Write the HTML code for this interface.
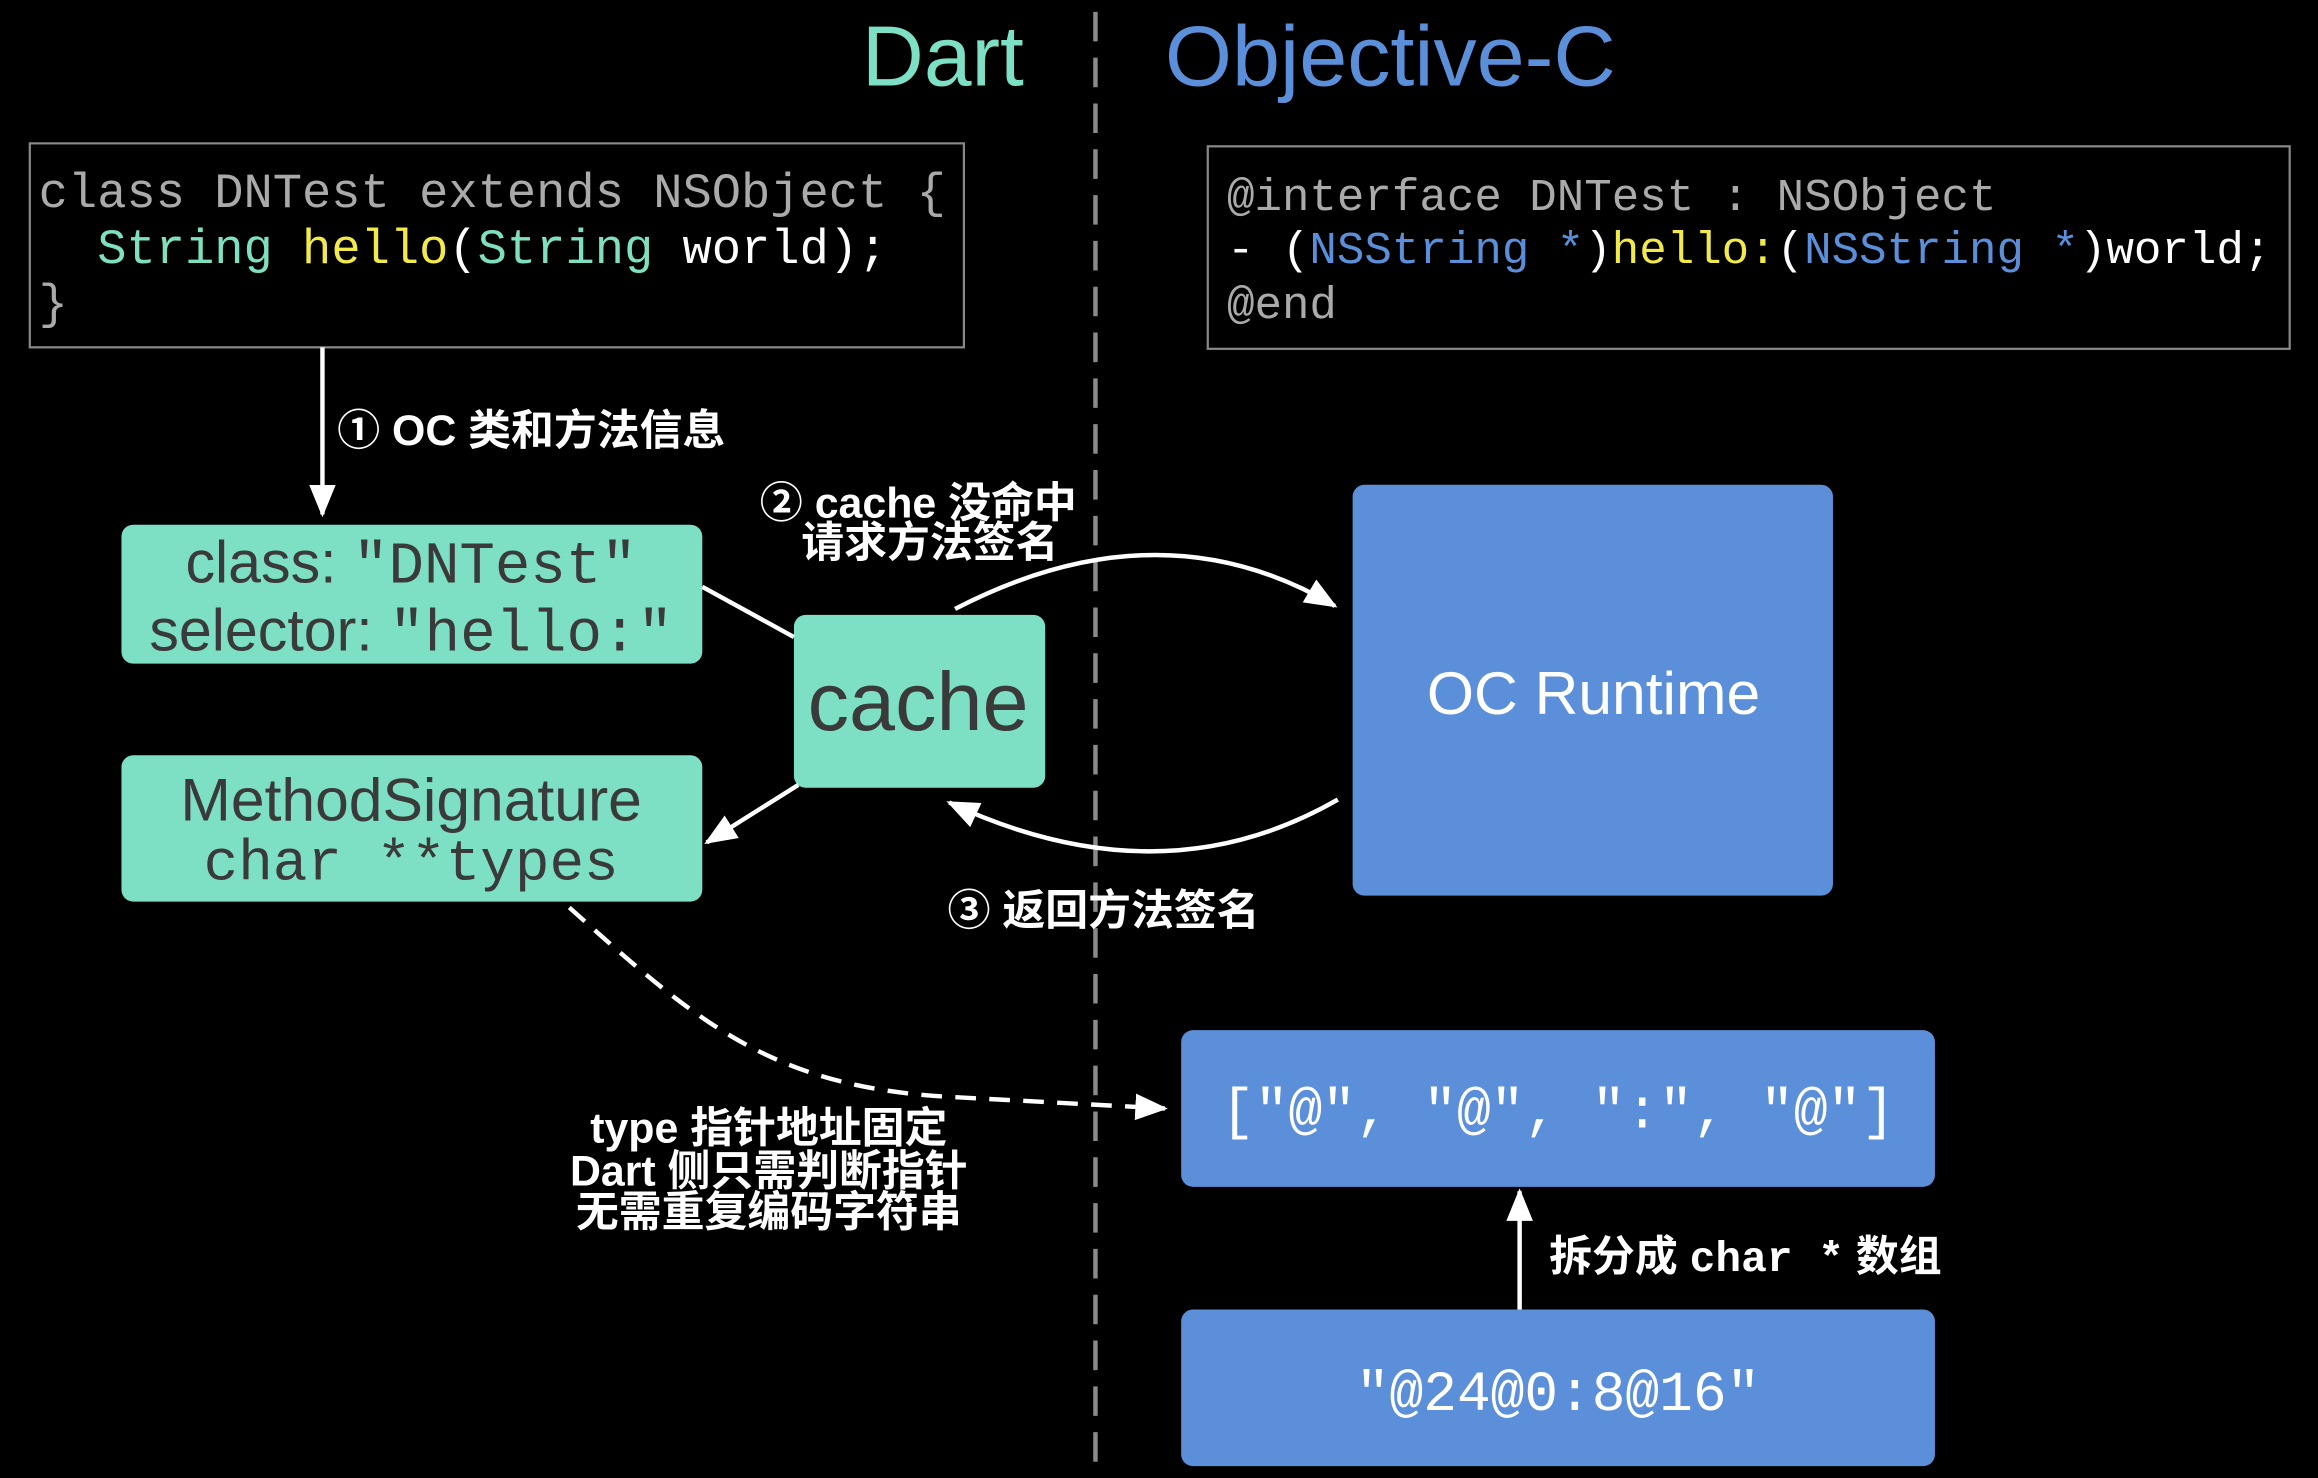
<!DOCTYPE html>
<html><head><meta charset="utf-8"><style>
html,body{margin:0;padding:0;background:#000;}
svg{display:block;}
.mono{font-family:"Liberation Mono","DejaVu Sans Mono",monospace;}
.sans{font-family:"Liberation Sans","Noto Sans CJK SC",sans-serif;}
.lbl{font-family:"Liberation Sans","Noto Sans CJK SC",sans-serif;font-weight:bold;fill:#fff;font-size:29px;}
</style></head><body>
<svg width="2318" height="1478" viewBox="0 0 1568 1000" xmlns="http://www.w3.org/2000/svg">
<defs>
<marker id="ah2" markerWidth="22" markerHeight="22" refX="20" refY="11" orient="auto" markerUnits="userSpaceOnUse" viewBox="0 0 22 22">
<path d="M0,2 L22,11 L0,20 z" fill="#fff"/></marker>
</defs>
<rect width="1568" height="1000" fill="#000"/>
<text x="583" y="58" class="sans" font-size="58" fill="#7ddfc3">Dart</text>
<text x="788" y="58" class="sans" font-size="58" fill="#5b8fd9" textLength="305" lengthAdjust="spacingAndGlyphs">Objective-C</text>
<line x1="741" y1="8" x2="741" y2="1000" stroke="#8a8a8a" stroke-width="3" stroke-dasharray="20,11"/>

<rect x="20" y="97" width="632" height="138" fill="none" stroke="#888" stroke-width="1.5"/>
<text class="mono" font-size="33" fill="#aaa" xml:space="preserve"><tspan x="26" y="140">class DNTest extends NSObject {</tspan><tspan x="26" y="178">  <tspan fill="#7ee0c0">String</tspan> <tspan fill="#f2ea4a">hello</tspan><tspan fill="#fff">(</tspan><tspan fill="#7ee0c0">String</tspan><tspan fill="#fff"> world);</tspan></tspan><tspan x="26" y="215">}</tspan></text>

<rect x="817" y="99" width="732" height="137" fill="none" stroke="#888" stroke-width="1.5"/>
<text class="mono" font-size="31" fill="#aaa" xml:space="preserve"><tspan x="830" y="142">@interface DNTest : NSObject</tspan><tspan x="830" y="178"><tspan fill="#fff">- (</tspan><tspan fill="#5b8fd9">NSString *</tspan><tspan fill="#fff">)</tspan><tspan fill="#f2ea4a">hello:</tspan><tspan fill="#fff">(</tspan><tspan fill="#5b8fd9">NSString *</tspan><tspan fill="#fff">)world;</tspan></tspan><tspan x="830" y="215">@end</tspan></text>

<line x1="218" y1="235" x2="218" y2="348" stroke="#fff" stroke-width="3" marker-end="url(#ah2)"/>
<text x="228" y="301" class="lbl">① OC 类和方法信息</text>

<rect x="82" y="355" width="393" height="94" rx="8" fill="#7ddfc3"/>
<text x="278" y="394" text-anchor="middle" font-size="40" fill="#3a3a3a"><tspan class="sans">class: </tspan><tspan class="mono">"DNTest"</tspan></text>
<text x="278" y="440" text-anchor="middle" font-size="40" fill="#3a3a3a"><tspan class="sans">selector: </tspan><tspan class="mono">"hello:"</tspan></text>

<rect x="82" y="511" width="393" height="99" rx="8" fill="#7ddfc3"/>
<text x="278" y="555" text-anchor="middle" class="sans" font-size="41" fill="#3a3a3a">MethodSignature</text>
<text x="278" y="595" text-anchor="middle" class="mono" font-size="39" fill="#3a3a3a">char **types</text>

<rect x="537" y="416" width="170" height="117" rx="8" fill="#7ddfc3"/>
<text x="621" y="494" text-anchor="middle" class="sans" font-size="56" fill="#3a3a3a">cache</text>

<line x1="475" y1="397" x2="537" y2="431" stroke="#fff" stroke-width="3"/>
<line x1="540" y1="531" x2="478" y2="570" stroke="#fff" stroke-width="3" marker-end="url(#ah2)"/>

<rect x="915" y="328" width="325" height="278" rx="8" fill="#5b8fd9"/>
<text x="1078" y="483" text-anchor="middle" class="sans" font-size="41" fill="#fff">OC Runtime</text>

<path d="M646,412 Q785,340 903,410" fill="none" stroke="#fff" stroke-width="3" marker-end="url(#ah2)"/>
<path d="M905,541 Q785,610 642,543" fill="none" stroke="#fff" stroke-width="3" marker-end="url(#ah2)"/>
<text x="514" y="350" class="lbl">② cache 没命中</text>
<text x="542" y="377" class="lbl">请求方法签名</text>
<text x="641" y="626" class="lbl">③ 返回方法签名</text>

<rect x="799" y="697" width="510" height="106" rx="8" fill="#5b8fd9"/>
<text x="1054" y="763" text-anchor="middle" class="mono" font-size="38" fill="#fff">["@", "@", ":", "@"]</text>
<rect x="799" y="886" width="510" height="106" rx="8" fill="#5b8fd9"/>
<text x="1054" y="954" text-anchor="middle" class="mono" font-size="38" fill="#fff">"@24@0:8@16"</text>

<line x1="1028" y1="886" x2="1028" y2="806" stroke="#fff" stroke-width="3" marker-end="url(#ah2)"/>
<text x="1048" y="860" class="lbl"><tspan>拆分成 </tspan><tspan class="mono">char *</tspan><tspan> 数组</tspan></text>

<path d="M385,614 C470,690 520,735 640,742 L788,750" fill="none" stroke="#fff" stroke-width="3" stroke-dasharray="14,9" marker-end="url(#ah2)"/>
<text x="520" y="773" text-anchor="middle" class="lbl">type 指针地址固定</text>
<text x="520" y="802" text-anchor="middle" class="lbl">Dart 侧只需判断指针</text>
<text x="520" y="830" text-anchor="middle" class="lbl">无需重复编码字符串</text>
</svg>
</body></html>
